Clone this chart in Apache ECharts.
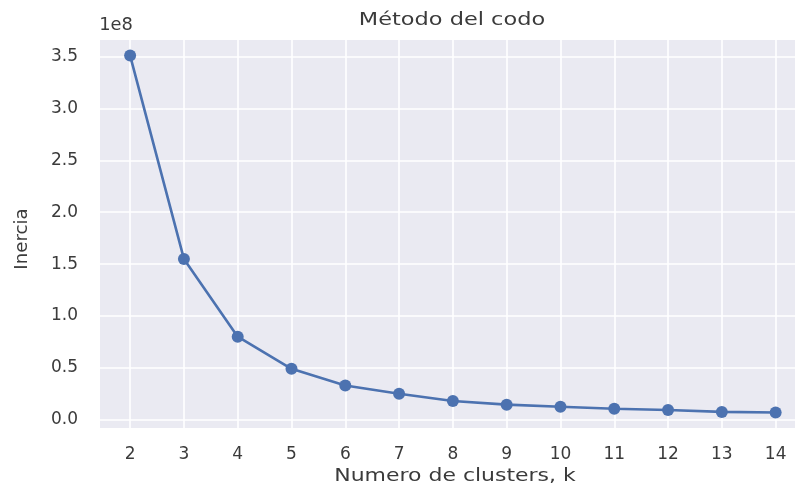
<!DOCTYPE html>
<html>
<head>
<meta charset="utf-8">
<script src="https://cdn.jsdelivr.net/npm/echarts@6/dist/echarts.min.js"></script>
<style>html,body{margin:0;padding:0;background:#fff}#c{width:795px;height:493px}</style>
</head>
<body>
<div id="c"></div>
<script>
const kValues = [2, 3, 4, 5, 6, 7, 8, 9, 10, 11, 12, 13, 14];
const inertia = [351000000, 155000000, 80000000, 49000000, 33000000, 25000000, 18000000, 14500000, 12500000, 10500000, 9300000, 7500000, 7000000];
const xTicks = [2, 3, 4, 5, 6, 7, 8, 9, 10, 11, 12, 13, 14];
const yTicks = [0, 50000000, 100000000, 150000000, 200000000, 250000000, 300000000, 350000000];
const titleText = 'Método del codo';
const xName = 'Numero de clusters, k';
const yName = 'Inercia';
const offsetText = '1e8';

const chart = echarts.init(document.getElementById('c'), null, {renderer: 'canvas'});
const txt = '#3b3b3b';
const font = '"DejaVu Sans", sans-serif';
chart.setOption({
  animation: false,
  backgroundColor: '#ffffff',
  graphic: [
    {type: 'text', x: 452, y: 21, scaleX: 1.32,
      style: {text: titleText, font: '17px ' + font, fill: txt, align: 'center', verticalAlign: 'middle'}},
    {type: 'text', x: 116, y: 26, scaleX: 1.05,
      style: {text: offsetText, font: '17px ' + font, fill: txt, align: 'center', verticalAlign: 'middle'}},
    {type: 'text', x: 455, y: 476, scaleX: 1.22,
      style: {text: xName, font: '18px ' + font, fill: txt, align: 'center', verticalAlign: 'middle'}},
    {type: 'text', x: 23, y: 239, rotation: Math.PI / 2, scaleX: 1.07,
      style: {text: yName, font: '17px ' + font, fill: txt, align: 'center', verticalAlign: 'middle'}}
  ],
  grid: {left: 100, right: 0, top: 40, bottom: 65, show: true, backgroundColor: '#eaeaf2', borderWidth: 0},
  xAxis: {
    type: 'value', min: 1.44, max: 14.36,
    axisLine: {show: false},
    axisTick: {show: false, customValues: xTicks},
    axisLabel: {customValues: xTicks, margin: 18, fontFamily: font, fontSize: 17, color: txt},
    splitLine: {show: true, lineStyle: {color: '#ffffff', width: 1.6}}
  },
  yAxis: {
    type: 'value', min: -8000000, max: 366000000,
    axisLine: {show: false},
    axisTick: {show: false, customValues: yTicks},
    axisLabel: {customValues: yTicks, margin: 22, fontFamily: font, fontSize: 17, color: txt,
      formatter: v => (v / 1e8).toFixed(1)},
    splitLine: {show: true, lineStyle: {color: '#ffffff', width: 1.6}}
  },
  series: [{
    type: 'line',
    data: kValues.map((k, i) => [k, inertia[i]]),
    symbol: 'circle', symbolSize: 12,
    lineStyle: {color: '#4c72b0', width: 2.6},
    itemStyle: {color: '#4c72b0'}
  }]
});
</script>
</body>
</html>
